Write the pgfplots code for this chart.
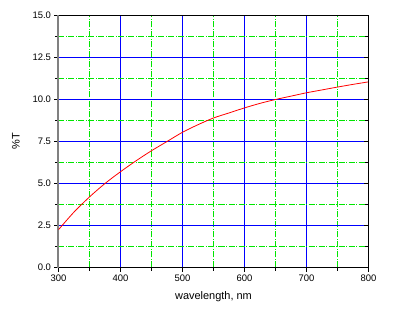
\documentclass[border=0pt]{standalone}
\usepackage{pgfplots}
\pgfplotsset{compat=1.18}
\usepackage{fontspec}
\setmainfont{Liberation Sans}
\definecolor{gridblue}{RGB}{0,0,255}
\definecolor{gridgreen}{RGB}{0,230,0}
\begin{document}
\begin{tikzpicture}
\fill[white] (-58.5bp,-52.5bp) rectangle (341.5bp,267.5bp);
\begin{axis}[
  scale only axis,
  width=310bp, height=252bp,
  xmin=300, xmax=800, ymin=0, ymax=15,
  xtick={300,400,...,800},
  ytick={0,2.5,...,15},
  minor xtick={350,450,...,750},
  minor ytick={1.25,3.75,...,13.75},
  xmajorgrids, ymajorgrids, xminorgrids, yminorgrids,
  major grid style={color=gridblue, line width=1bp},
  minor grid style={color=gridgreen, line width=1bp, dash pattern=on 6bp off 1.5bp on 1bp off 1.5bp},
  axis x line*=bottom, axis y line*=left,
  x axis line style={black, line width=1bp},
  y axis line style={black!50, line width=2bp},
  tick align=outside,
  major tick length=4bp, minor tick length=3bp,
  every tick/.style={black, line width=1bp},
  /pgf/number format/assume math mode=true,
  yticklabel style={/pgf/number format/.cd, fixed, fixed zerofill, precision=1},
  xticklabel style={/pgf/number format/.cd, fixed, 1000 sep={}},
  ticklabel style={font=\fontsize{9.5}{10}\selectfont},
  label style={font=\fontsize{11}{13}\selectfont},
  xlabel={wavelength, nm},
  ylabel={\%T},
  xlabel style={yshift=-3bp},
  ylabel style={yshift=6bp},
]
\addplot[red, line width=0.8pt, smooth] coordinates {
(300,2.25) (325,3.3) (350,4.2) (375,5.0) (400,5.7) (425,6.35) (450,6.95) (475,7.5) (500,8.05) (525,8.5) (550,8.9) (575,9.2) (600,9.5) (625,9.77) (650,10.0) (675,10.2) (700,10.4) (725,10.57) (750,10.74) (775,10.9) (800,11.05)
};
\end{axis}
\begin{axis}[
  scale only axis,
  width=310bp, height=252bp,
  xmin=300, xmax=800, ymin=0, ymax=15,
  axis x line*=top, axis y line*=right,
  xtick=\empty,
  ytick={0,2.5,...,15},
  minor ytick={1.25,3.75,...,13.75},
  yticklabels={},
  tick align=inside,
  major tick length=4bp, minor tick length=3bp,
  every tick/.style={black, line width=1bp},
  axis line style={black, line width=1bp},
]
\end{axis}
\end{tikzpicture}
\end{document}
